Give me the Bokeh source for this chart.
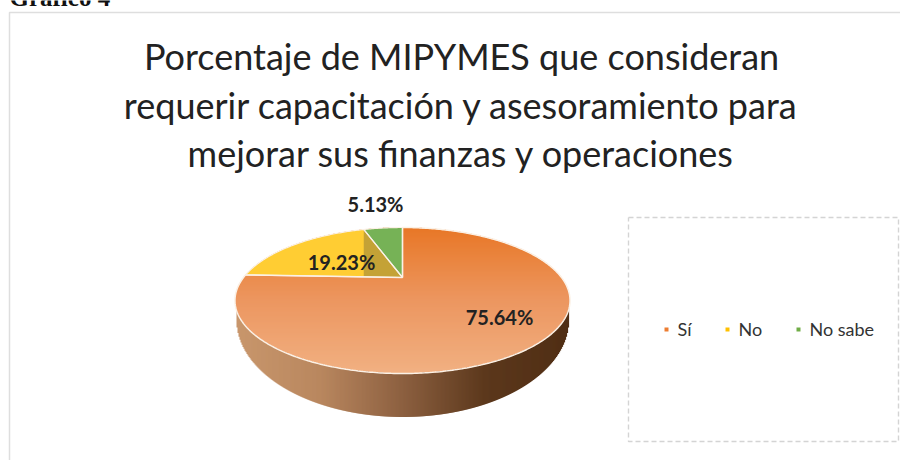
import numpy as np
from bokeh.plotting import figure
from bokeh.embed import file_html
from bokeh.resources import INLINE
from bokeh.core.properties import value

categories = ["Sí", "No", "No sabe"]
percent = [75.64, 19.23, 5.13]
percent_labels = ["75.64%", "19.23%", "5.13%"]
colors = ["#ED7D31", "#FFCD33", "#70AD47"]
title_lines = ["Porcentaje de MIPYMES que consideran",
               "requerir capacitación y asesoramiento para",
               "mejorar sus finanzas y operaciones"]
heading = "Gráfico 4"

W, H = 900, 460
p = figure(width=W, height=H, x_range=(0, W), y_range=(H, 0), output_backend="svg",
           toolbar_location=None, min_border=0, outline_line_color=None,
           background_fill_color="white", border_fill_color="white")
p.axis.visible = False
p.grid.visible = False

FONT = value("Lato")

# frame and clipped heading
p.line([9, 9, W], [H, 12, 12], line_color="#DEDEDE", line_width=1.5)
p.text([9], [-3], text=[heading], text_font=value("Liberation Serif"), text_font_style="bold",
       text_font_size="25px", text_color="#111111", text_baseline="alphabetic")

# title
for yy, line in zip([55, 104, 152], title_lines):
    p.text([461], [yy], text=[line], text_font=FONT, text_font_size="36px",
           text_color="#222222", text_align="center", text_baseline="alphabetic")

# perspective projection of a unit circle
CX, APEX_Y, R = 402.0, 277.0, 159.0
A, C = 21.5, 0.315


def project(t):
    u, v = np.sin(t), np.cos(t)
    d = 1 + C * v
    return CX + R * u / d, (APEX_Y + A * v) / d


def lerp(stops, f):
    stops = np.array(stops, float)
    xs = np.linspace(0, 1, len(stops))
    return ["#%02x%02x%02x" % tuple(int(round(np.interp(g, xs, stops[:, i]))) for i in range(3))
            for g in f]


cum = np.cumsum([0] + percent) / sum(percent) * 2 * np.pi
rim_t = np.linspace(0, 2 * np.pi, 721)
rim_x, rim_y = project(rim_t)
y_top, y_bot = rim_y.min(), rim_y.max()
half = np.abs(rim_x - CX)

# side wall: one-pixel columns, each overlapping the next so no seams show
WALL_YC, WALL_RY, WALL_RX = 319.5, 97.0, 166.0
cols = np.arange(int(CX - WALL_RX), int(CX + WALL_RX))
xc = cols + 0.5 - CX
wall_bottom = WALL_YC + WALL_RY * np.sqrt(np.clip(1 - (xc / WALL_RX) ** 2, 0, 1))
wall_face = 300.0
wall_col = lerp([(200, 150, 108), (185, 135, 95), (140, 96, 64), (92, 56, 28), (80, 46, 20)],
                (cols - cols.min()) / (cols.max() - cols.min()))
p.quad(left=cols, right=cols + 1.6, top=np.full(len(cols), wall_face), bottom=wall_bottom,
       fill_color=wall_col, line_color=None)

# orange face: gradient bands, overlapping downward
rows = np.arange(int(y_top), int(y_bot) + 1)
ell_yc, ell_ry = (y_top + y_bot) / 2, (y_bot - y_top) / 2
ell_rx = half.max()
probe = np.where(rows + 0.5 < ell_yc, rows + 0.5, rows + 1.5)
half_w = ell_rx * np.sqrt(np.clip(1 - ((probe - ell_yc) / ell_ry) ** 2, 0, 1))
face_col = lerp([(232, 119, 38), (236, 150, 96), (241, 176, 130)],
                (rows - rows.min()) / (rows.max() - rows.min()))
p.quad(left=CX - half_w, right=CX + half_w, top=rows, bottom=rows + 2,
       fill_color=face_col, line_color=None)


def wedge(a, b):
    t = np.linspace(a, b, max(int((b - a) * 90), 4))
    x, y = project(t)
    return np.r_[CX, x, CX], np.r_[APEX_Y, y, APEX_Y]


x_o, y_o = wedge(cum[0], cum[1])
x_y, y_y = wedge(cum[1], cum[2])
x_g, y_g = wedge(cum[2], cum[3])

p.patch(x_y, y_y, fill_color=colors[1], line_color=None)
# inner shaded triangle
gx, gy = project(np.array([cum[2]]))
p.patch([CX, gx[0], gx[0]], [APEX_Y, gy[0], APEX_Y], fill_color="#C4A236", line_color=None)
p.patch(x_g, y_g, fill_color="#76B256", line_color=None)

EDGE = "#FBF1E6"
p.line(x_o, y_o, line_color=EDGE, line_width=1.5)
p.line(x_y, y_y, line_color=EDGE, line_width=1.2)
p.line(x_g, y_g, line_color=EDGE, line_width=1.2)

# data labels
for (lx, ly), lab in zip([(499, 316), (341, 261), (375, 203)], percent_labels):
    p.text([lx], [ly], text=[lab], text_font=FONT, text_font_style="bold", text_font_size="20px",
           text_color="#222222", text_align="center", text_baseline="alphabetic")

# legend box
p.line([628, 898, 898, 628, 628], [217, 217, 441, 441, 217], line_color="#D4D4D4",
       line_width=1.4, line_dash="5 3")
for cx_, tx, col, name in zip([666, 727, 798], [677, 738, 809],
                              ["#ED7D31", "#FFC000", "#70AD47"], categories):
    p.rect([cx_], [329], width=4, height=4, fill_color=col, line_color=None)
    p.text([tx], [328], text=[name], text_font=FONT, text_font_size="18px",
           text_color="#333333", text_baseline="alphabetic")

open("out.html", "w").write(file_html(p, INLINE))
